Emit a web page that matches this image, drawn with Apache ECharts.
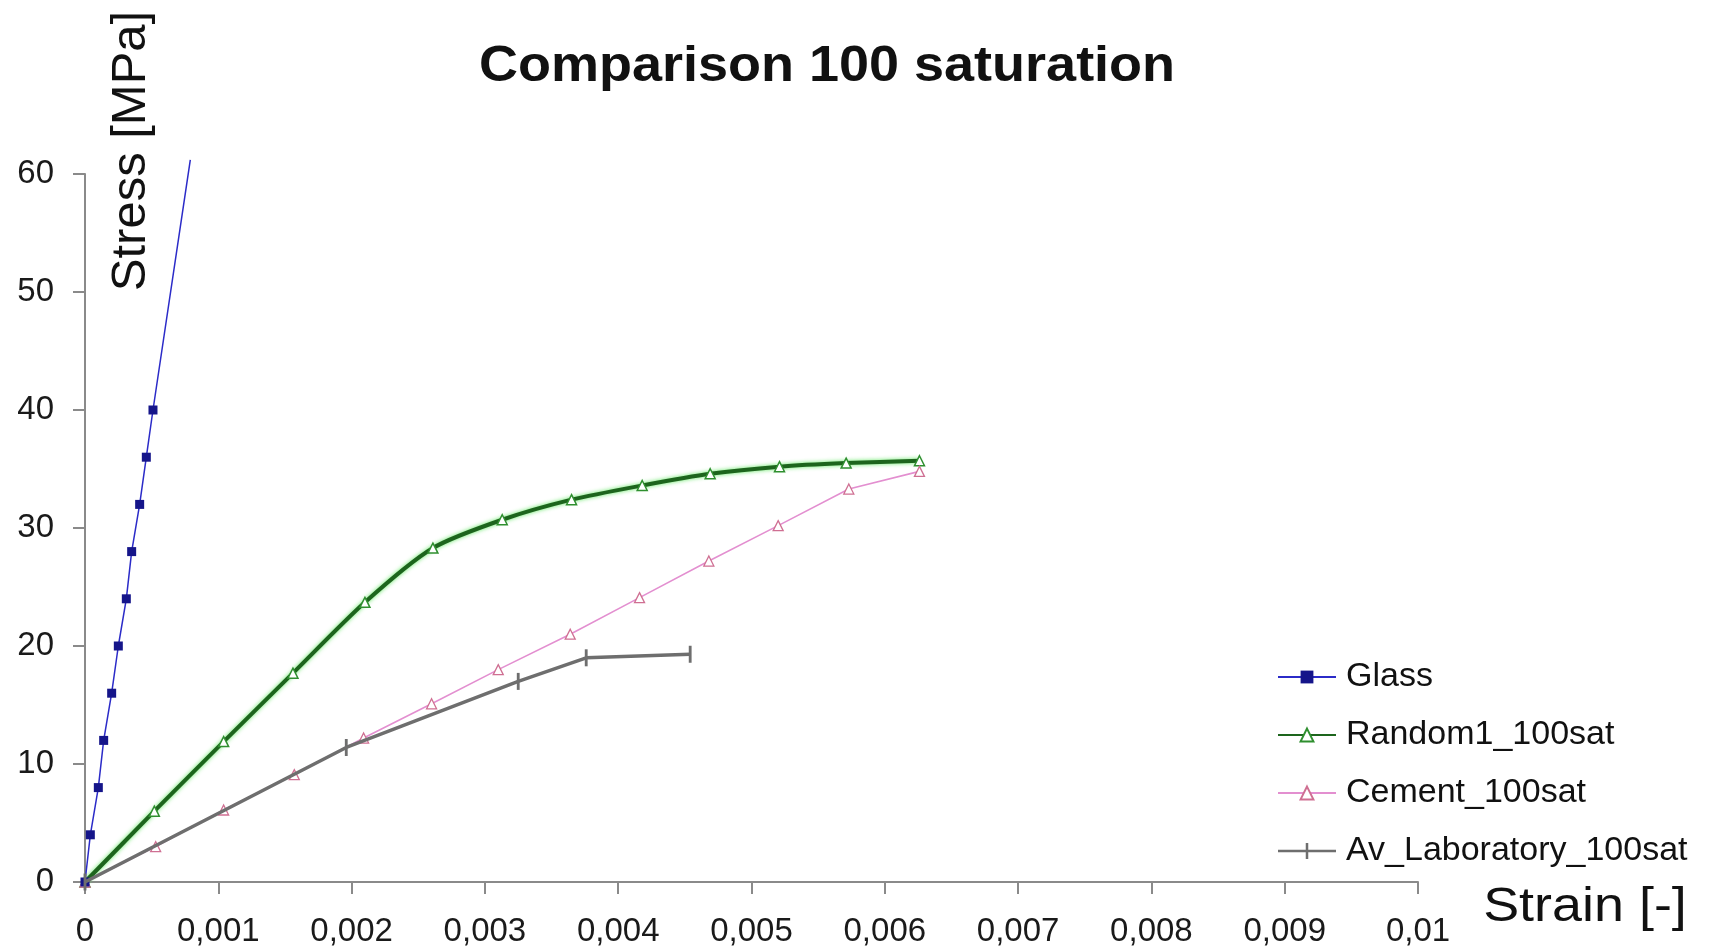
<!DOCTYPE html>
<html>
<head>
<meta charset="utf-8">
<title>Comparison 100 saturation</title>
<script src="https://cdn.jsdelivr.net/npm/echarts@6/dist/echarts.min.js"></script>
<style>
  html, body { margin: 0; padding: 0; background: #ffffff; }
  #chart { width: 1709px; height: 948px; }
</style>
</head>
<body>
<div id="chart"></div>
<script>
// Stress–strain curves at 100 % saturation: strain [-] vs stress [MPa]
const glassStrain   = [0, 0.00004, 0.0001, 0.00014, 0.0002, 0.00025, 0.00031, 0.00035, 0.00041, 0.00046, 0.00051, 0.00079];
const glassStress   = [0, 4, 8, 12, 16, 20, 24, 28, 32, 36, 40, 61.2];
const glassMarked   = 11; // points beyond this index are drawn without a marker

const randomStrain  = [0, 0.00052, 0.00104, 0.00156, 0.0021, 0.00261, 0.00313, 0.00365, 0.00418, 0.00469, 0.00521, 0.00571, 0.00626];
const randomStress  = [0, 6.0, 11.9, 17.7, 23.7, 28.3, 30.7, 32.4, 33.6, 34.6, 35.2, 35.5, 35.7];

const cementStrain  = [0, 0.00053, 0.00104, 0.00157, 0.00209, 0.0026, 0.0031, 0.00364, 0.00416, 0.00468, 0.0052, 0.00573, 0.00626];
const cementStress  = [0, 3.0, 6.1, 9.1, 12.2, 15.1, 18.0, 21.0, 24.1, 27.2, 30.2, 33.3, 34.8];

const labStrain     = [0, 0.00196, 0.00325, 0.00376, 0.00454];
const labStress     = [0, 11.4, 17.0, 19.0, 19.3];

const seriesNames   = ['Glass', 'Random1_100sat', 'Cement_100sat', 'Av_Laboratory_100sat'];
const xTickLabels   = ['0', '0,001', '0,002', '0,003', '0,004', '0,005', '0,006', '0,007', '0,008', '0,009', '0,01'];
const yTickLabels   = ['0', '10', '20', '30', '40', '50', '60'];

const pairs = (xs, ys) => xs.map((x, i) => [x, ys[i]]);

const glassData = pairs(glassStrain, glassStress).map((p, i) =>
  i < glassMarked ? p : { value: p, symbol: 'none' });

// thin vertical bar used as the laboratory marker
const BAR = 'path://M0,0H1V6H0Z';
// legend key for the laboratory series: line with a vertical bar across it
const BAR_KEY = 'path://M0,6.75H27.75V0H30.25V6.75H58V9.25H30.25V16H27.75V9.25H0Z';

const FONT = '"Liberation Sans", Arial, sans-serif';
const chart = echarts.init(document.getElementById('chart'), null, { renderer: 'canvas' });

chart.setOption({
  backgroundColor: '#ffffff',
  animation: false,
  grid: { left: 85, right: 291, top: 174, bottom: 66, containLabel: false },
  xAxis: {
    type: 'value',
    min: 0, max: 0.01, interval: 0.001,
    axisLine: { show: true, lineStyle: { color: '#8a8a8a', width: 2 } },
    axisTick: { show: true, length: 12, lineStyle: { color: '#8a8a8a', width: 2 } },
    splitLine: { show: false },
    axisLabel: {
      margin: 33,
      fontFamily: FONT, fontSize: 33, color: '#1a1a1a',
      formatter: (v) => xTickLabels[Math.round(v / 0.001)]
    }
  },
  yAxis: {
    type: 'value',
    min: 0, max: 60, interval: 10,
    axisLine: { show: true, lineStyle: { color: '#8a8a8a', width: 2 } },
    axisTick: { show: true, length: 12, lineStyle: { color: '#8a8a8a', width: 2 } },
    splitLine: { show: false },
    axisLabel: {
      margin: 31,
      fontFamily: FONT, fontSize: 33, color: '#1a1a1a',
      formatter: (v) => yTickLabels[Math.round(v / 10)]
    }
  },
  legend: {
    orient: 'vertical',
    left: 1272,
    top: 654,
    itemWidth: 58,
    itemHeight: 16,
    itemGap: 22,
    textStyle: { fontFamily: FONT, fontSize: 34, color: '#111111', lineHeight: 36, padding: [0, 0, 0, 5] },
    data: [
      { name: seriesNames[0] },
      { name: seriesNames[1] },
      { name: seriesNames[2] },
      { name: seriesNames[3], icon: BAR_KEY, itemStyle: { color: '#6e6e6e' } }
    ]
  },
  graphic: [
    {
      type: 'text',
      x: 827, y: 67,
      scaleX: 1.08,
      style: {
        text: 'Comparison 100 saturation',
        font: 'bold 50px ' + FONT,
        fill: '#111111',
        align: 'center',
        verticalAlign: 'middle'
      }
    },
    {
      type: 'text',
      x: 131, y: 151,
      rotation: Math.PI / 2,
      style: {
        text: 'Stress [MPa]',
        font: '49px ' + FONT,
        fill: '#111111',
        align: 'center',
        verticalAlign: 'middle'
      }
    },
    {
      type: 'text',
      x: 1585, y: 907,
      scaleX: 1.1,
      style: {
        text: 'Strain [-]',
        font: '49px ' + FONT,
        fill: '#111111',
        align: 'center',
        verticalAlign: 'middle'
      }
    }
  ],
  series: [
    {
      name: seriesNames[0],
      type: 'line',
      data: glassData,
      clip: false,
      symbol: 'rect',
      symbolSize: 9,
      showAllSymbol: true,
      lineStyle: { color: '#2b2bc8', width: 1.5 },
      itemStyle: { color: '#15158a' },
      z: 3
    },
    {
      name: seriesNames[1],
      type: 'line',
      data: pairs(randomStrain, randomStress),
      smooth: 0.25,
      symbol: 'triangle',
      symbolSize: 10,
      showAllSymbol: true,
      lineStyle: { color: '#1d651d', width: 4, shadowColor: 'rgba(80,230,80,0.9)', shadowBlur: 4 },
      itemStyle: { color: '#ffffff', borderColor: '#2f8f2f', borderWidth: 1.5 },
      z: 2
    },
    {
      name: seriesNames[2],
      type: 'line',
      data: pairs(cementStrain, cementStress),
      symbol: 'triangle',
      symbolSize: 10,
      showAllSymbol: true,
      lineStyle: { color: '#e38fd0', width: 1.6 },
      itemStyle: { color: '#ffffff', borderColor: '#cf6f92', borderWidth: 1.3 },
      z: 2
    },
    {
      name: seriesNames[3],
      type: 'line',
      data: pairs(labStrain, labStress),
      symbol: BAR,
      symbolSize: 17,
      symbolKeepAspect: true,
      showAllSymbol: true,
      lineStyle: { color: '#6e6e6e', width: 3.5 },
      itemStyle: { color: '#6e6e6e' },
      z: 4
    }
  ]
});
</script>
</body>
</html>
